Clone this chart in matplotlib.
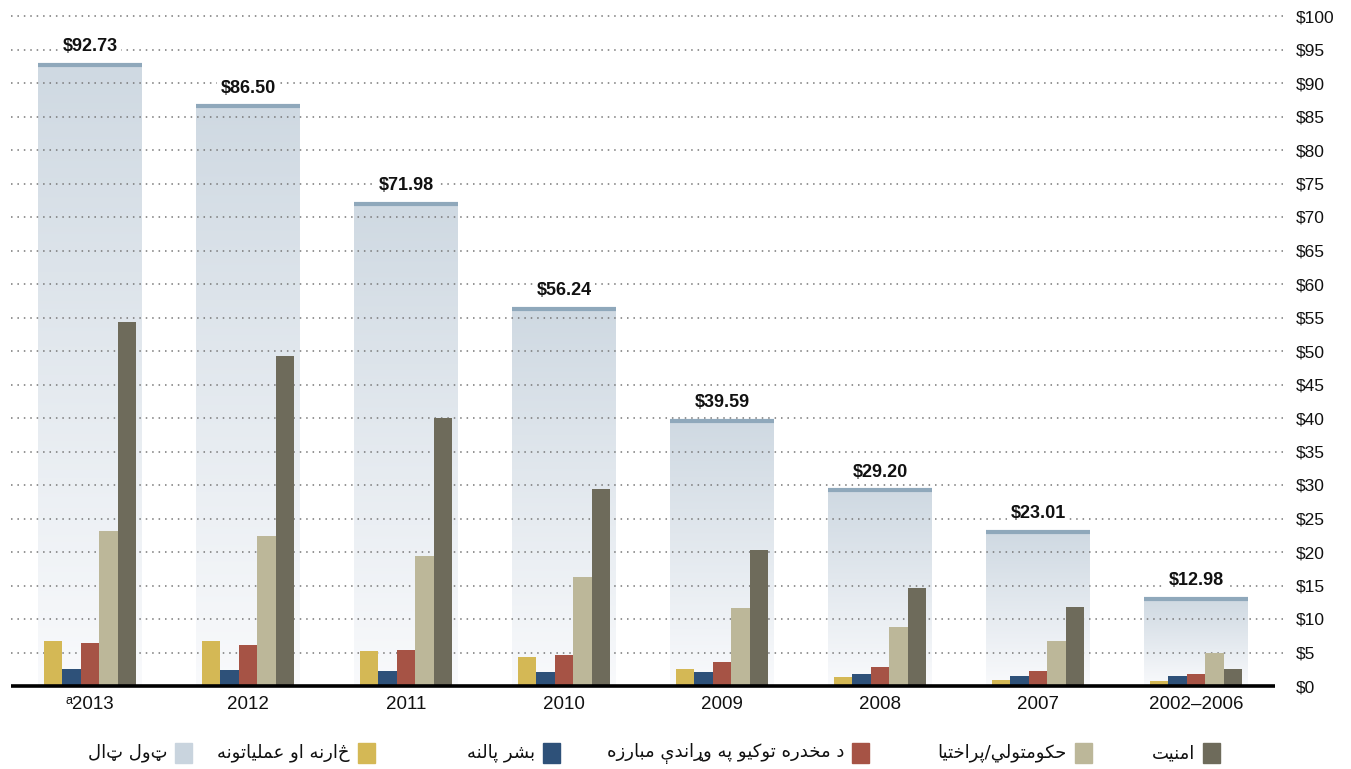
import numpy as np
import matplotlib
matplotlib.use("Agg")
import matplotlib.pyplot as plt
from matplotlib.colors import LinearSegmentedColormap
from matplotlib.patches import Rectangle

# ---------------- data ----------------
categories = ['ᵃ2013', '2012', '2011', '2010', '2009', '2008', '2007', '2002–2006']
totals = [92.73, 86.50, 71.98, 56.24, 39.59, 29.20, 23.01, 12.98]
oversight = [6.7, 6.7, 5.2, 4.3, 2.5, 1.3, 0.9, 0.7]
humanitarian = [2.5, 2.4, 2.2, 2.1, 2.1, 1.8, 1.5, 1.5]
counternarcotics = [6.4, 6.1, 5.4, 4.6, 3.6, 2.8, 2.2, 1.8]
governance = [23.1, 22.4, 19.4, 16.3, 11.6, 8.8, 6.7, 4.9]
security = [54.3, 49.3, 40.0, 29.4, 20.3, 14.6, 11.8, 2.5]
ytick_values = list(range(0, 101, 5))

series_labels = ['څارنه او عملیاتونه', 'بشر پالنه', 'د مخدره توکیو په وړاندې مبارزه',
                 'حکومتولي/پراختیا', 'امنیت']
total_label = 'ټول ټال'

# ---------------- minimal Arabic-script shaping ----------------
FORMS = {
    '\u0627': ('R', '\uFE8D', '\uFE8E'),
    '\u0628': ('D', '\uFE8F', '\uFE90', '\uFE91', '\uFE92'),
    '\u062A': ('D', '\uFE95', '\uFE96', '\uFE97', '\uFE98'),
    '\u062D': ('D', '\uFEA1', '\uFEA2', '\uFEA3', '\uFEA4'),
    '\u062E': ('D', '\uFEA5', '\uFEA6', '\uFEA7', '\uFEA8'),
    '\u062F': ('R', '\uFEA9', '\uFEAA'),
    '\u0631': ('R', '\uFEAD', '\uFEAE'),
    '\u0632': ('R', '\uFEAF', '\uFEB0'),
    '\u0634': ('D', '\uFEB5', '\uFEB6', '\uFEB7', '\uFEB8'),
    '\u0639': ('D', '\uFEC9', '\uFECA', '\uFECB', '\uFECC'),
    '\u0644': ('D', '\uFEDD', '\uFEDE', '\uFEDF', '\uFEE0'),
    '\u0645': ('D', '\uFEE1', '\uFEE2', '\uFEE3', '\uFEE4'),
    '\u0646': ('D', '\uFEE5', '\uFEE6', '\uFEE7', '\uFEE8'),
    '\u0647': ('D', '\uFEE9', '\uFEEA', '\uFEEB', '\uFEEC'),
    '\u0648': ('R', '\uFEED', '\uFEEE'),
    '\u064A': ('D', '\uFEF1', '\uFEF2', '\uFEF3', '\uFEF4'),
    '\u067E': ('D', '\uFB56', '\uFB57', '\uFB58', '\uFB59'),
    '\u06A9': ('D', '\uFB8E', '\uFB8F', '\uFB90', '\uFB91'),
    '\u06CC': ('D', '\uFBFC', '\uFBFD', '\uFBFE', '\uFBFF'),
    '\u06D0': ('D', '\uFBE4', '\uFBE5', '\uFBE6', '\uFBE7'),
}


def shape_rtl(text):
    chars = list(text)
    out = []
    for i, c in enumerate(chars):
        if c not in FORMS:
            out.append(c)
            continue
        f = FORMS[c]
        prev = chars[i - 1] if i > 0 else None
        nxt = chars[i + 1] if i + 1 < len(chars) else None
        jp = prev in FORMS and FORMS[prev][0] == 'D'
        jn = f[0] == 'D' and nxt in FORMS
        if f[0] == 'R':
            out.append(f[2] if jp else f[1])
        else:
            if jp and jn:
                out.append(f[4])
            elif jp:
                out.append(f[2])
            elif jn:
                out.append(f[3])
            else:
                out.append(f[1])
    return ''.join(reversed(out))


# ---------------- style ----------------
colors = ['#d4b855', '#2e5179', '#a65345', '#bcb799', '#6e6b5b']
total_color = '#c9d4de'
topline_color = '#8fa8bb'
grad_cmap = LinearSegmentedColormap.from_list('g', ['#f9fafc', '#cfd9e2'])
num_font = ['Liberation Sans', 'DejaVu Sans']
ps_font = ['DejaVu Sans']

W, H = 1351, 769
fig = plt.figure(figsize=(W / 100, H / 100), dpi=100)
ax = fig.add_axes([11 / W, 83 / H, 1264 / W, 670 / H])

x = np.arange(len(categories))
bw = 0.1165
bgw = 0.652
series = [oversight, humanitarian, counternarcotics, governance, security]

grad = np.linspace(0, 1, 256).reshape(-1, 1)
for i, t in enumerate(totals):
    ax.imshow(grad, extent=(x[i] - bgw / 2, x[i] + bgw / 2, 0, t), origin='lower',
              cmap=grad_cmap, aspect='auto', zorder=1, interpolation='bilinear',
              vmin=0, vmax=1)
    ax.plot([x[i] - bgw / 2, x[i] + bgw / 2], [t, t], color=topline_color, lw=3,
            solid_capstyle='butt', zorder=4)
    ax.annotate(f'${t:.2f}', (x[i], t), xytext=(0, 7), textcoords='offset points',
                ha='center', va='bottom', fontsize=13, fontweight='bold',
                family=num_font, color='#111111', zorder=6,
                bbox=dict(fc='white', ec='none', pad=2.5))

for k, (vals, c) in enumerate(zip(series, colors)):
    ax.bar(x + (k - 2) * bw, vals, bw, color=c, zorder=3, linewidth=0)

for yv in ytick_values[1:]:
    ax.hlines(yv, -0.5, 7.55, colors='#777777', linestyles=(0, (1, 3.2)), lw=1.1,
              zorder=2, clip_on=False)
ax.hlines(0, -0.5, 7.5, colors='black', lw=2.6, zorder=5, clip_on=False)

ax.set_xlim(-0.5, 7.5)
ax.set_ylim(0, 100)
for s in ax.spines.values():
    s.set_visible(False)
ax.yaxis.tick_right()
ax.set_yticks(ytick_values)
ax.set_yticklabels([f'${v}' for v in ytick_values], family=num_font, fontsize=12.5,
                   color='#111111')
ax.tick_params(axis='y', length=0, pad=15)
ax.set_xticks(x)
ax.set_xticklabels(categories, family=num_font, fontsize=13.5, color='#111111')
ax.tick_params(axis='x', length=0, pad=7)

# ---------------- legend (RTL) ----------------
legend_labels = series_labels[::-1] + [total_label]
legend_colors = colors[::-1] + [total_color]
square_left = [1203, 1075, 852, 543, 358, 175]
for lab, col, sl in zip(legend_labels, legend_colors, square_left):
    fig.patches.append(Rectangle((sl / W, (H - 763) / H), 17 / W, 20 / H,
                                 transform=fig.transFigure, color=col, figure=fig))
    fig.text((sl - 8) / W, (H - 753) / H, shape_rtl(lab), ha='right', va='center',
             fontsize=13, family=ps_font, color='#111111')

fig.savefig('out.png', dpi=100)
